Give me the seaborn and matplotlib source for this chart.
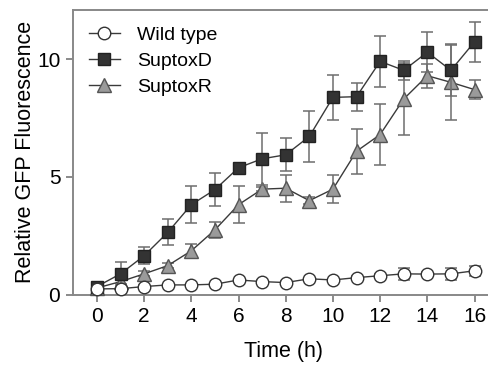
import numpy as np
import pandas as pd
import matplotlib
matplotlib.use("Agg")
import matplotlib.pyplot as plt
import seaborn as sns

# values
time_h = list(range(17))

wild_mean = [0.24, 0.25, 0.34, 0.41, 0.41, 0.44, 0.62, 0.55, 0.51, 0.67, 0.62, 0.72, 0.80, 0.88, 0.87, 0.88, 1.01]
wild_err = [0.05, 0.05, 0.05, 0.05, 0.05, 0.05, 0.05, 0.05, 0.05, 0.05, 0.05, 0.05, 0.08, 0.25, 0.10, 0.25, 0.22]

suptoxd_mean = [0.34, 0.88, 1.65, 2.64, 3.82, 4.46, 5.39, 5.77, 5.94, 6.72, 8.38, 8.41, 9.91, 9.53, 10.30, 9.53, 10.74]
suptoxd_err = [0.10, 0.50, 0.35, 0.55, 0.80, 0.70, 0.10, 1.10, 0.70, 1.10, 0.97, 0.60, 1.10, 0.40, 0.85, 1.10, 0.85]

suptoxr_mean = [0.28, 0.55, 0.88, 1.23, 1.86, 2.75, 3.82, 4.48, 4.52, 3.99, 4.48, 6.09, 6.80, 8.31, 9.30, 9.02, 8.71]
suptoxr_err = [0.05, 0.10, 0.10, 0.10, 0.30, 0.35, 0.80, 0.10, 0.58, 0.15, 0.60, 0.95, 1.30, 1.55, 0.50, 1.60, 0.40]

labels = ["Wild type", "SuptoxD", "SuptoxR"]

plt.rcParams['font.family'] = ['Liberation Sans', 'DejaVu Sans']

fig = plt.figure(figsize=(4.89, 3.65), dpi=100)
ax = fig.add_axes([0.149, 0.193, 0.86, 0.78])

line_col = "#3a3a3a"
err_col = "#6e6e6e"

styles = {
    "SuptoxR": dict(marker="^", markerfacecolor="#9a9a9a", markeredgecolor="#555555", markersize=9.5),
    "SuptoxD": dict(marker="s", markerfacecolor="#333333", markeredgecolor="#222222", markersize=8.5),
    "Wild type": dict(marker="o", markerfacecolor="white", markeredgecolor="#333333", markersize=9),
}
series = {
    "Wild type": (wild_mean, wild_err),
    "SuptoxD": (suptoxd_mean, suptoxd_err),
    "SuptoxR": (suptoxr_mean, suptoxr_err),
}

z = 3
for name in ["SuptoxR", "SuptoxD", "Wild type"]:
    mean, err = series[name]
    ax.errorbar(time_h, mean, yerr=err, fmt="none", ecolor=err_col, elinewidth=1.1,
                capsize=4.5, capthick=1.1, zorder=z, clip_on=False)
    df = pd.DataFrame({"time": time_h, "value": mean})
    sns.lineplot(data=df, x="time", y="value", ax=ax, color=line_col, linewidth=1.0,
                 markeredgewidth=1.0, zorder=z + 0.5, clip_on=False, label=name,
                 **styles[name])
    z += 1

ax.set_xlim(-1.02, 16.8)
ax.set_ylim(0, 12.1)
ax.set_xticks(range(0, 17, 2))
ax.set_yticks([0, 5, 10])
ax.tick_params(axis="both", labelsize=15, length=5, width=1.2, color="#777777", pad=4)
ax.set_xlabel("Time (h)", fontsize=15.5, labelpad=11)
ax.set_ylabel("Relative GFP Fluorescence", fontsize=15.5, labelpad=1)
for s in ["left", "bottom", "top"]:
    ax.spines[s].set_color("#888888")
    ax.spines[s].set_linewidth(1.4)
ax.spines["right"].set_visible(False)

handles, lbls = ax.get_legend_handles_labels()
order = [lbls.index(l) for l in labels]
ax.legend([handles[i] for i in order], labels, loc="upper left", frameon=False,
          fontsize=14, handlelength=1.55, handletextpad=0.9, labelspacing=0.42,
          borderaxespad=0.45, bbox_to_anchor=(0.0, 1.0))

fig.savefig("out.png", dpi=100)
